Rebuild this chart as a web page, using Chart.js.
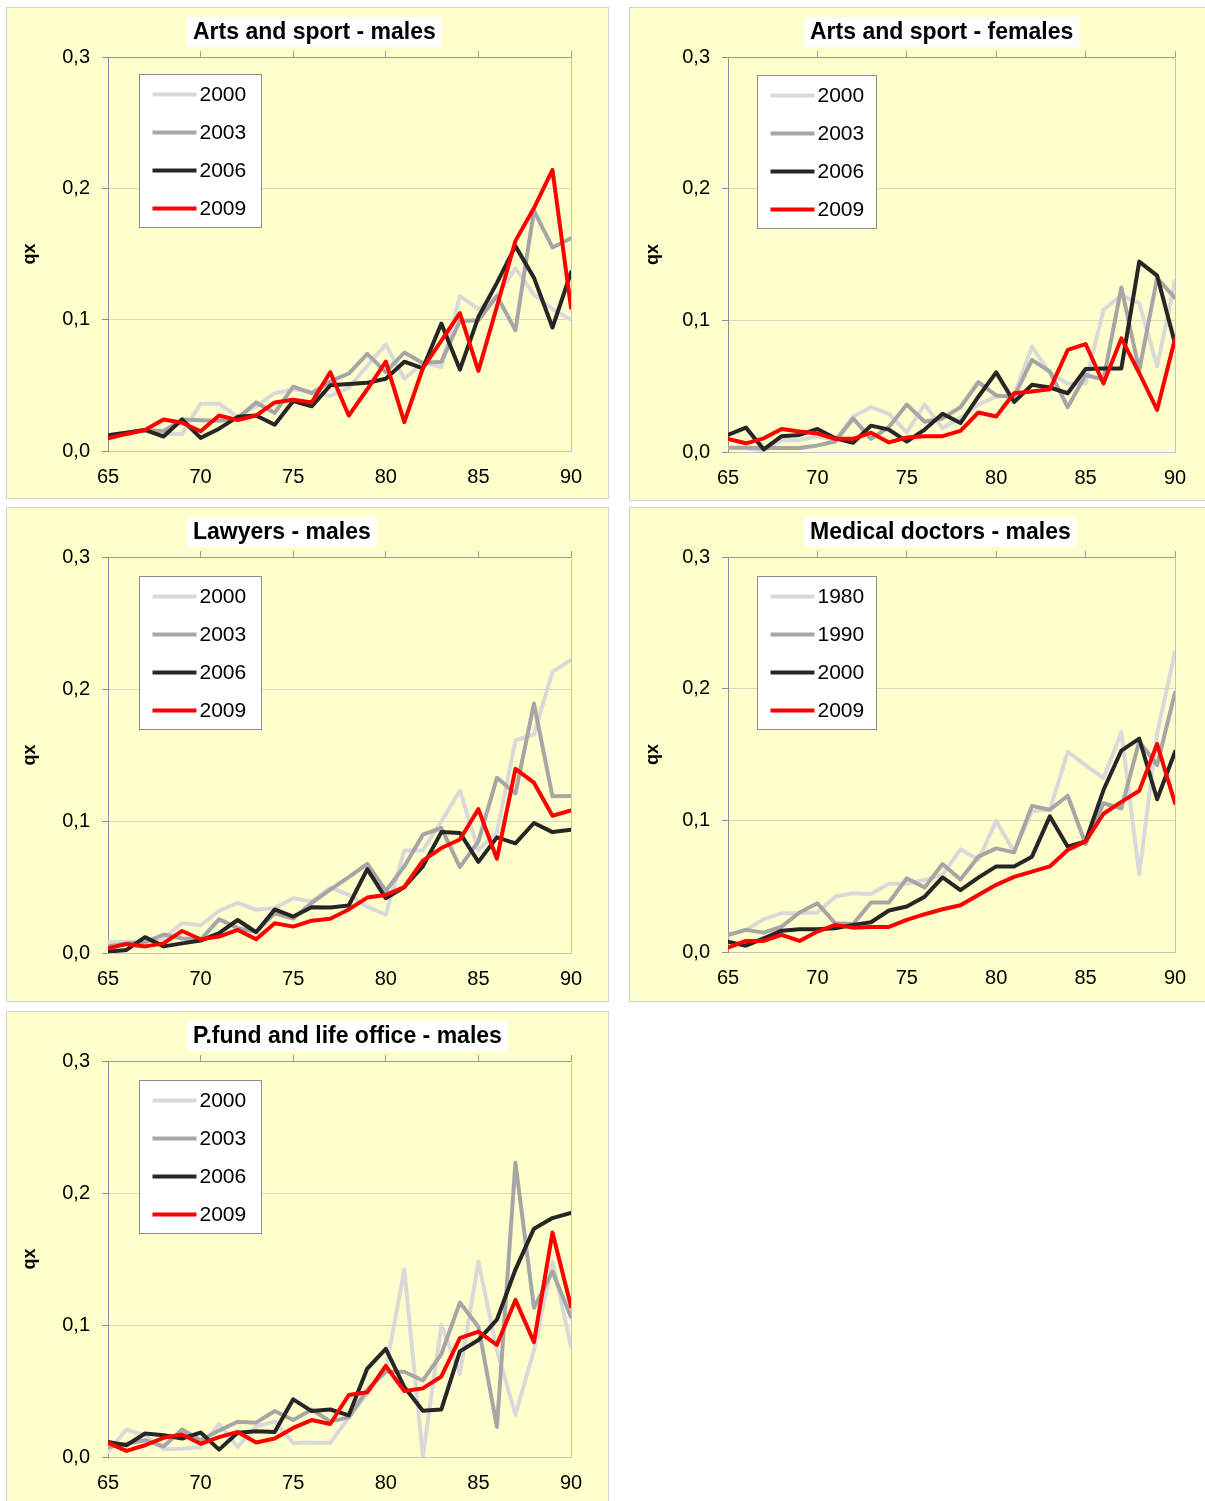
<!DOCTYPE html>
<html>
<head>
<meta charset="utf-8">
<title>Mortality rates qx by occupation</title>
<script src="https://cdn.jsdelivr.net/npm/chart.js@4"></script>
<style>
  html, body { margin: 0; padding: 0; background: #ffffff; }
  .panel { position: absolute; box-sizing: border-box; border: 1px solid #d2d2d2; background: #ffffcc; }
  .panel canvas { display: block; }
</style>
</head>
<body>
<div class="panel" id="p1"><canvas></canvas></div>
<div class="panel" id="p2"><canvas></canvas></div>
<div class="panel" id="p3"><canvas></canvas></div>
<div class="panel" id="p4"><canvas></canvas></div>
<div class="panel" id="p5"><canvas></canvas></div>
<script>
// ---- data -------------------------------------------------------------
const ages = [65, 66, 67, 68, 69, 70, 71, 72, 73, 74, 75, 76, 77, 78, 79, 80, 81, 82, 83, 84, 85, 86, 87, 88, 89, 90];
const xTickLabels = ['65', '70', '75', '80', '85', '90'];
const yTickLabels = ['0,0', '0,1', '0,2', '0,3'];

const panelTitles = [
  'Arts and sport - males',
  'Arts and sport - females',
  'Lawyers - males',
  'Medical doctors - males',
  'P.fund and life office - males'
];
const yearsRecent = ['2000', '2003', '2006', '2009'];
const yearsDoctors = ['1980', '1990', '2000', '2009'];

// Arts and sport - males
const artsMales2000 = [0.012, 0.014, 0.015, 0.013, 0.013, 0.036, 0.036, 0.026, 0.034, 0.044, 0.047, 0.045, 0.042, 0.048, 0.065, 0.081, 0.055, 0.067, 0.064, 0.118, 0.108, 0.118, 0.139, 0.119, 0.108, 0.100];
const artsMales2003 = [0.012, 0.014, 0.016, 0.015, 0.024, 0.0235, 0.023, 0.025, 0.037, 0.029, 0.049, 0.044, 0.053, 0.059, 0.074, 0.060, 0.075, 0.067, 0.068, 0.099, 0.0995, 0.118, 0.092, 0.183, 0.155, 0.162];
const artsMales2006 = [0.012, 0.014, 0.016, 0.011, 0.024, 0.010, 0.017, 0.026, 0.027, 0.020, 0.038, 0.034, 0.050, 0.051, 0.052, 0.055, 0.068, 0.063, 0.097, 0.062, 0.102, 0.128, 0.156, 0.132, 0.094, 0.136];
const artsMales2009 = [0.0096, 0.013, 0.016, 0.024, 0.0215, 0.015, 0.027, 0.0235, 0.027, 0.037, 0.039, 0.037, 0.060, 0.027, 0.047, 0.068, 0.022, 0.063, 0.084, 0.105, 0.061, 0.110, 0.160, 0.185, 0.214, 0.109];

// Arts and sport - females
const artsFemales2000 = [0.0033, 0.003, 0.001, 0.009, 0.009, 0.012, 0.009, 0.027, 0.034, 0.029, 0.015, 0.036, 0.018, 0.026, 0.036, 0.042, 0.043, 0.080, 0.060, 0.052, 0.052, 0.108, 0.119, 0.113, 0.065, 0.130];
const artsFemales2003 = [0.0033, 0.0033, 0.003, 0.003, 0.003, 0.005, 0.008, 0.0255, 0.010, 0.019, 0.036, 0.023, 0.0255, 0.034, 0.053, 0.043, 0.042, 0.070, 0.061, 0.034, 0.0585, 0.055, 0.125, 0.062, 0.132, 0.117];
const artsFemales2006 = [0.013, 0.0185, 0.002, 0.012, 0.013, 0.0175, 0.0104, 0.007, 0.020, 0.017, 0.008, 0.017, 0.029, 0.022, 0.042, 0.0605, 0.038, 0.051, 0.049, 0.0446, 0.063, 0.0635, 0.0635, 0.1446, 0.134, 0.0825];
const artsFemales2009 = [0.010, 0.0066, 0.0104, 0.0175, 0.0155, 0.014, 0.010, 0.010, 0.0147, 0.0073, 0.011, 0.012, 0.012, 0.016, 0.030, 0.027, 0.0446, 0.046, 0.0476, 0.0775, 0.082, 0.052, 0.0863, 0.060, 0.032, 0.086];

// Lawyers - males
const lawyers2000 = [0.0086, 0.0086, 0.0086, 0.011, 0.0225, 0.021, 0.032, 0.038, 0.0327, 0.034, 0.0415, 0.039, 0.0496, 0.044, 0.035, 0.029, 0.0777, 0.0777, 0.0997, 0.123, 0.078, 0.0914, 0.161, 0.1656, 0.213, 0.222];
const lawyers2003 = [0.005, 0.0073, 0.008, 0.014, 0.011, 0.010, 0.0256, 0.019, 0.016, 0.030, 0.026, 0.038, 0.048, 0.0575, 0.0676, 0.047, 0.0656, 0.0896, 0.0947, 0.065, 0.0846, 0.1327, 0.1208, 0.189, 0.1187, 0.119];
const lawyers2006 = [0.001, 0.0023, 0.012, 0.005, 0.0073, 0.0094, 0.015, 0.025, 0.0157, 0.033, 0.0276, 0.0347, 0.0344, 0.036, 0.0635, 0.0415, 0.050, 0.0656, 0.0916, 0.091, 0.069, 0.0876, 0.083, 0.0985, 0.0916, 0.0934];
const lawyers2009 = [0.0035, 0.0068, 0.005, 0.0073, 0.0167, 0.0104, 0.0124, 0.0175, 0.0104, 0.0225, 0.020, 0.0245, 0.026, 0.033, 0.042, 0.044, 0.050, 0.070, 0.0795, 0.086, 0.109, 0.0714, 0.1395, 0.129, 0.104, 0.108];

// Medical doctors - males
const doctors1980 = [0.0124, 0.0168, 0.0249, 0.0294, 0.0294, 0.030, 0.042, 0.0447, 0.044, 0.0518, 0.0518, 0.0548, 0.0586, 0.078, 0.070, 0.0995, 0.076, 0.107, 0.108, 0.152, 0.142, 0.132, 0.167, 0.059, 0.166, 0.228];
const doctors1990 = [0.013, 0.0168, 0.0147, 0.0193, 0.030, 0.037, 0.0218, 0.0213, 0.0376, 0.0376, 0.056, 0.049, 0.0668, 0.055, 0.0724, 0.0787, 0.0757, 0.111, 0.108, 0.1187, 0.082, 0.113, 0.109, 0.160, 0.142, 0.197];
const doctors2000 = [0.0079, 0.0048, 0.0104, 0.0162, 0.0173, 0.0173, 0.018, 0.0206, 0.0226, 0.0315, 0.0345, 0.042, 0.0566, 0.047, 0.0565, 0.065, 0.065, 0.0724, 0.103, 0.080, 0.084, 0.123, 0.153, 0.162, 0.116, 0.152];
const doctors2009 = [0.0033, 0.0084, 0.0084, 0.013, 0.0084, 0.0155, 0.0206, 0.0185, 0.019, 0.019, 0.0244, 0.0287, 0.0325, 0.0355, 0.0433, 0.051, 0.057, 0.061, 0.065, 0.0775, 0.084, 0.105, 0.114, 0.1225, 0.158, 0.113];

// P.fund and life office - males
const pensionFund2000 = [0.004, 0.0208, 0.0165, 0.0058, 0.0063, 0.0076, 0.025, 0.0076, 0.023, 0.027, 0.0107, 0.011, 0.0107, 0.030, 0.048, 0.066, 0.142, 0.0005, 0.100, 0.063, 0.148, 0.081, 0.032, 0.081, 0.148, 0.0835];
const pensionFund2003 = [0.0076, 0.010, 0.0127, 0.008, 0.0208, 0.0127, 0.020, 0.0267, 0.026, 0.0348, 0.028, 0.036, 0.027, 0.030, 0.051, 0.0646, 0.0646, 0.058, 0.078, 0.117, 0.0987, 0.0228, 0.223, 0.113, 0.1405, 0.106];
const pensionFund2006 = [0.0114, 0.0089, 0.0178, 0.0165, 0.014, 0.0185, 0.0056, 0.0183, 0.0195, 0.019, 0.0437, 0.0348, 0.036, 0.0316, 0.067, 0.082, 0.053, 0.035, 0.036, 0.080, 0.0886, 0.104, 0.142, 0.173, 0.181, 0.185];
const pensionFund2009 = [0.0107, 0.0046, 0.0089, 0.0145, 0.017, 0.010, 0.015, 0.019, 0.011, 0.014, 0.022, 0.028, 0.025, 0.047, 0.049, 0.069, 0.050, 0.052, 0.061, 0.090, 0.095, 0.085, 0.119, 0.087, 0.170, 0.114];

// ---- styling and layout -------------------------------------------------
const FONT = 'Arial, "Liberation Sans", sans-serif';
const lineColors = ['#d9d9d9', '#a6a6a6', '#262626', '#ff0000'];
const drawOrder = [3, 2, 1, 0];   // red on top, palest underneath
const CLEAR = 'rgba(0,0,0,0)';

// page boxes of each panel and the page position of its plot area
const panels = [
  { el: 'p1', title: panelTitles[0], years: yearsRecent, series: [artsMales2000, artsMales2003, artsMales2006, artsMales2009],
    box: [6, 7, 603, 492], plot: [108, 57, 571, 451], titleDx: 85, legendDx: 31, legendDy: 17, legendW: 122 },
  { el: 'p2', title: panelTitles[1], years: yearsRecent, series: [artsFemales2000, artsFemales2003, artsFemales2006, artsFemales2009],
    box: [629, 7, 577, 494], plot: [728, 57, 1175, 452], titleDx: 82, legendDx: 29, legendDy: 18, legendW: 119 },
  { el: 'p3', title: panelTitles[2], years: yearsRecent, series: [lawyers2000, lawyers2003, lawyers2006, lawyers2009],
    box: [6, 507, 603, 495], plot: [108, 557, 571, 953], titleDx: 85, legendDx: 31, legendDy: 19, legendW: 122 },
  { el: 'p4', title: panelTitles[3], years: yearsDoctors, series: [doctors1980, doctors1990, doctors2000, doctors2009],
    box: [629, 507, 577, 495], plot: [728, 557, 1175, 952], titleDx: 82, legendDx: 29, legendDy: 19, legendW: 119 },
  { el: 'p5', title: panelTitles[4], years: yearsRecent, series: [pensionFund2000, pensionFund2003, pensionFund2006, pensionFund2009],
    box: [6, 1011, 603, 491], plot: [108, 1061, 571, 1457], titleDx: 85, legendDx: 31, legendDy: 19, legendW: 122 }
];

// Title on a white plate and the boxed legend inside the plot area
const panelDecor = {
  id: 'panelDecor',
  afterDraw(chart, args, opts) {
    const ctx = chart.ctx;
    const area = chart.chartArea;
    ctx.save();

    // title
    ctx.font = 'bold 23px ' + FONT;
    const tw = ctx.measureText(opts.title).width;
    const tx = area.left + opts.titleDx;
    const ty = 24;
    ctx.fillStyle = '#ffffff';
    ctx.fillRect(tx - 6, ty - 15, tw + 12, 30);
    ctx.fillStyle = '#000000';
    ctx.textBaseline = 'middle';
    ctx.textAlign = 'left';
    ctx.fillText(opts.title, tx, ty + 1);

    // legend
    const lx = Math.round(area.left + opts.legendDx) + 0.5;
    const ly = Math.round(area.top + opts.legendDy) + 0.5;
    const lw = opts.legendW, lh = 153;
    ctx.fillStyle = '#ffffff';
    ctx.fillRect(lx, ly, lw, lh);
    ctx.strokeStyle = '#8c8c8c';
    ctx.lineWidth = 1;
    ctx.strokeRect(lx, ly, lw, lh);
    ctx.font = '21px ' + FONT;
    chart.data.datasets.forEach((ds, i) => {
      const cy = ly + 20 + i * 38;
      ctx.strokeStyle = ds.borderColor;
      ctx.lineWidth = 4;
      ctx.beginPath();
      ctx.moveTo(lx + 13, cy);
      ctx.lineTo(lx + 57, cy);
      ctx.stroke();
      ctx.fillStyle = '#000000';
      ctx.fillText(ds.label, lx + 60, cy + 1);
    });
    ctx.restore();
  }
};

function yLabel(v) {
  return yTickLabels[Math.round(v * 10)];
}
function xLabel(v) {
  const s = String(v);
  return xTickLabels.includes(s) ? s : '';
}

panels.forEach(p => {
  const div = document.getElementById(p.el);
  const [bl, bt, bw, bh] = p.box;
  div.style.left = bl + 'px';
  div.style.top = bt + 'px';
  div.style.width = bw + 'px';
  div.style.height = bh + 'px';

  // canvas sits inside the 1px border
  const cLeft = bl + 1, cTop = bt + 1, cRight = bl + bw - 1, cBottom = bt + bh - 1;
  const [pl, pt, pr, pb] = p.plot;
  const leftW = pl - cLeft;
  const bottomH = cBottom - pb;

  const datasets = p.series.map((vals, i) => ({
    label: p.years[i],
    data: vals,
    borderColor: lineColors[i],
    backgroundColor: lineColors[i],
    borderWidth: 4,
    pointRadius: 0,
    tension: 0,
    borderJoinStyle: 'round',
    borderCapStyle: 'round',
    order: drawOrder[i]
  }));

  new Chart(div.querySelector('canvas'), {
    type: 'line',
    data: { labels: ages, datasets },
    plugins: [panelDecor],
    options: {
      responsive: true,
      maintainAspectRatio: false,
      animation: false,
      layout: { padding: { top: pt - cTop, right: cRight - pr, left: 0, bottom: 0 } },
      plugins: {
        legend: { display: false },
        tooltip: { enabled: false },
        panelDecor: { title: p.title, titleDx: p.titleDx, legendDx: p.legendDx, legendDy: p.legendDy, legendW: p.legendW }
      },
      scales: {
        x: {
          type: 'linear', position: 'bottom', min: 65, max: 90,
          ticks: { stepSize: 5, autoSkip: false, maxRotation: 0, color: '#000', padding: 14,
                   font: { size: 20, family: FONT }, callback: xLabel },
          grid: { display: false, drawTicks: false, tickLength: 0 },
          border: { display: true, color: '#c4c4c4', width: 1 },
          afterFit: s => { s.height = bottomH; }
        },
        xTop: {
          type: 'linear', position: 'top', min: 65, max: 90,
          ticks: { display: false, stepSize: 5 },
          grid: { drawOnChartArea: false, drawTicks: true, tickLength: 6,
                  color: c => (c.index === 0 ? CLEAR : '#9a9a9a') },
          border: { display: true, color: '#9a9a9a', width: 1 },
          afterFit: s => { s.height = 0; }
        },
        y: {
          type: 'linear', position: 'left', min: 0, max: 0.3,
          ticks: { stepSize: 0.1, color: '#000', padding: 12, font: { size: 20, family: FONT }, callback: yLabel },
          grid: { drawTicks: true, tickLength: 6, tickColor: '#8c8c9c',
                  color: c => ((c.index === 0 || c.index === 3) ? CLEAR : '#d6d6c2') },
          border: { display: true, color: '#8c8c9c', width: 1 },
          title: { display: true, text: 'qx', color: '#000', padding: { top: 12, bottom: 0 },
                   font: { size: 18, weight: 'bold', family: FONT } },
          afterFit: s => { s.width = leftW; }
        },
        yRight: {
          type: 'linear', position: 'right', min: 0, max: 0.3,
          ticks: { display: false },
          grid: { display: false, drawTicks: false },
          border: { display: true, color: '#c4c4c4', width: 1 },
          afterFit: s => { s.width = 0; }
        }
      }
    }
  });
});
</script>
</body>
</html>
